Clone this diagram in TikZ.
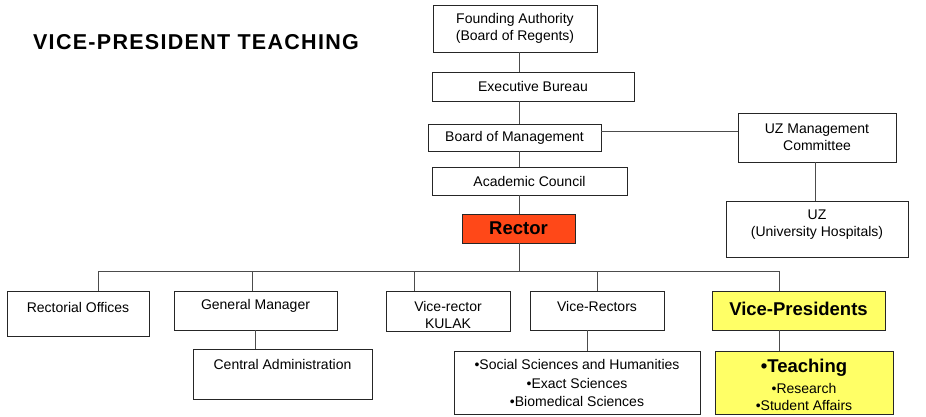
\documentclass[tikz,border=0pt]{standalone}
\usepackage{fontspec}
\setmainfont{Liberation Sans}
\begin{document}
\begin{tikzpicture}[x=1pt,y=-1pt,
  box/.style={draw=black!85,line width=0.9pt,inner sep=0pt,fill=white,font=\fontsize{14}{17}\selectfont},
  lbl/.style={inner sep=0pt,align=center,font=\fontsize{14}{17}\selectfont},
  conn/.style={draw=black!70,line width=1pt}]
\useasboundingbox (0,0) rectangle (926,416);
\fill[white] (0,0) rectangle (926,416);
% title
\node[inner sep=0pt,font=\fontsize{21.5}{24}\bfseries\addfontfeature{LetterSpace=6}] (title) at (196,42) {VICE-PRESIDENT TEACHING};
% upper column
\node[box,minimum width=164,minimum height=47,align=center] (found) at (515,28.5) {Founding Authority\\(Board of Regents)};
\node[box,minimum width=202,minimum height=29] (exec) at (533,86.5) {Executive Bureau};
\node[box,minimum width=173,minimum height=27] (bom) at (514.5,137.5) {Board of Management};
\node[box,minimum width=195,minimum height=28] (ac) at (529.5,181) {Academic Council};
\node[box,minimum width=113,minimum height=29,fill={rgb,255:red,255;green,72;blue,24},font=\fontsize{18.5}{20}\bfseries] (rector) at (518.5,228.5) {Rector};
% right
\node[box,minimum width=158,minimum height=49,align=center] (uzm) at (817,137.5) {UZ Management\\Committee};
\node[box,minimum width=182,minimum height=56] (uz) at (817,229) {};
\node[lbl] (uzt) at (817,224.5) {UZ\\(University Hospitals)};
% lower row
\node[box,minimum width=142,minimum height=45] (ro) at (78,313.5) {};
\node[lbl] (rot) at (78,307) {Rectorial Offices};
\node[box,minimum width=163,minimum height=39] (gm) at (255.5,310.5) {};
\node[lbl] (gmt) at (255.5,306) {General Manager};
\node[box,minimum width=124,minimum height=40] (kulak) at (448,311) {};
\node[lbl] (kulakt) at (448,314.5) {Vice-rector\\KULAK};
\node[box,minimum width=134,minimum height=39] (vr) at (597,310.5) {};
\node[lbl] (vrt) at (597,306) {Vice-Rectors};
\node[box,minimum width=173,minimum height=39,fill={rgb,255:red,255;green,255;blue,102}] (vp) at (798.5,310.5) {};
\node[lbl,font=\fontsize{18.5}{20}\bfseries] (vpt) at (798.5,309) {Vice-Presidents};
\node[box,minimum width=179,minimum height=50] (ca) at (282.5,374) {};
\node[lbl] (cat) at (282.5,364) {Central Administration};
\node[box,minimum width=246,minimum height=63] (sci) at (577,382.5) {};
\node[lbl,font=\fontsize{14}{18.3}\selectfont] (scit) at (577,383) {•Social Sciences and Humanities\\•Exact Sciences\\•Biomedical Sciences};
\node[box,minimum width=178,minimum height=63,fill={rgb,255:red,255;green,255;blue,102}] (teach) at (804,382.5) {};
\node[lbl,font=\fontsize{18.5}{20}\bfseries] (teacht) at (804,368) {•Teaching};
\node[lbl,font=\fontsize{14}{17}\selectfont] (rest) at (804,396.5) {•Research\\•Student Affairs};
% connectors
\coordinate (sp) at (519,0);
\coordinate (busl) at (98,271);
\coordinate (busr) at (779,271);
\draw[conn] (found.south -| sp) -- (exec.north -| sp);
\draw[conn] (exec.south -| sp) -- (bom.north -| sp);
\draw[conn] (bom.south -| sp) -- (ac.north -| sp);
\draw[conn] (ac.south -| sp) -- (rector.north -| sp);
\draw[conn] (rector.south -| sp) -- (busl -| sp);
\draw[conn] (bom.east |- 0,131) -- (uzm.west |- 0,131);
\coordinate (uzx) at (815,0);
\draw[conn] (uzm.south -| uzx) -- (uz.north -| uzx);
\draw[conn] (busl) -- (busr);
\draw[conn] (busl) -- (ro.north -| busl);
\coordinate (d2) at (252,271);
\coordinate (d3) at (414,271);
\coordinate (d4) at (597,271);
\draw[conn] (d2) -- (gm.north -| d2);
\draw[conn] (d3) -- (kulak.north -| d3);
\draw[conn] (d4) -- (vr.north -| d4);
\draw[conn] (busr) -- (vp.north -| busr);
\coordinate (c1) at (255,0);
\draw[conn] (gm.south -| c1) -- (ca.north -| c1);
\coordinate (c2) at (587,0);
\draw[conn] (vr.south -| c2) -- (sci.north -| c2);
\draw[conn] (vp.south -| busr) -- (teach.north -| busr);
\end{tikzpicture}
\end{document}
